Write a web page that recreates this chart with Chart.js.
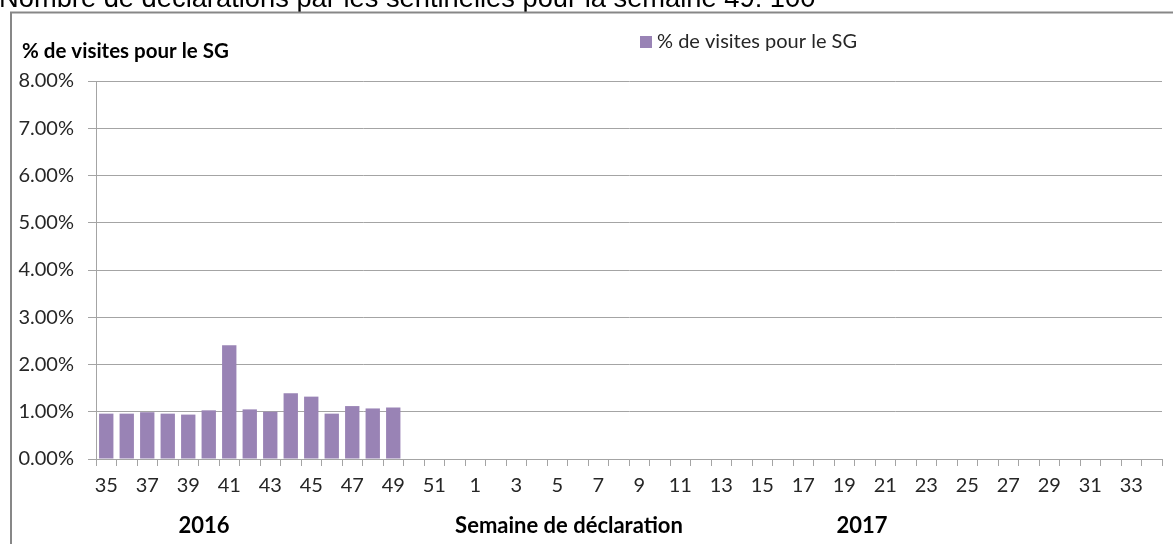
<!DOCTYPE html>
<html>
<head>
<meta charset="utf-8">
<style>
  html, body { margin: 0; padding: 0; background: #ffffff; overflow: hidden; }
  #wrap { position: relative; width: 1173px; height: 544px; }
</style>
<script src="https://cdn.jsdelivr.net/npm/chart.js@4"></script>
</head>
<body>
<div id="wrap"><canvas id="sgChart"></canvas></div>
<script>
const pageTitle = "Nombre de déclarations par les sentinelles pour la semaine 49: 100";
const seriesLabel = "% de visites pour le SG";
const axisTitle = "Semaine de déclaration";
const years = ["2016", "2017"];

const weeks = [
  "35", "36", "37", "38", "39", "40", "41", "42", "43", "44", "45", "46", "47", "48", "49", "50", "51", "52",
  "1", "2", "3", "4", "5", "6", "7", "8", "9", "10", "11", "12", "13", "14", "15", "16", "17",
  "18", "19", "20", "21", "22", "23", "24", "25", "26", "27", "28", "29", "30", "31", "32", "33", "34"
];

// % of visits, weeks 35 to 49 of 2016 (later weeks not yet reported)
const visitShare = [0.96, 0.96, 0.99, 0.96, 0.94, 1.03, 2.41, 1.05, 1.00, 1.39, 1.32, 0.96, 1.12, 1.07, 1.09];

const yMax = 8;
const yStep = 1;

const palette = {
  bar: "#9983b5",
  grid: "#a4a4a4",
  frame: "#878787",
  tick: "#262626",
  text: "#000000"
};

const sans = "Lato, 'Open Sans', sans-serif";

const framePlugin = {
  id: "framePlugin",
  beforeDraw(chart) {
    const { ctx, width, height } = chart;
    ctx.save();
    ctx.fillStyle = "#ffffff";
    ctx.fillRect(0, 0, width, height);

    ctx.font = "27.3px 'Liberation Sans', Arial, sans-serif";
    ctx.fillStyle = palette.text;
    ctx.textBaseline = "alphabetic";
    ctx.fillText(pageTitle, -1, 7);

    ctx.strokeStyle = palette.frame;
    ctx.lineWidth = 2;
    ctx.beginPath();
    ctx.moveTo(11, height + 5);
    ctx.lineTo(11, 12.5);
    ctx.lineTo(width + 5, 12.5);
    ctx.stroke();
    ctx.restore();
  }
};

const labelsPlugin = {
  id: "labelsPlugin",
  afterDraw(chart) {
    const { ctx } = chart;
    ctx.save();
    ctx.textBaseline = "middle";

    // legend
    ctx.fillStyle = chart.data.datasets[0].backgroundColor;
    ctx.fillRect(640, 36, 12, 12);
    ctx.fillStyle = "#262626";
    ctx.font = "20px " + sans;
    ctx.textAlign = "left";
    ctx.fillText(chart.data.datasets[0].label, 657, 42);

    // axis title
    ctx.fillStyle = palette.text;
    ctx.font = "bold 20.5px " + sans;
    ctx.fillText(seriesLabel, 22, 51);

    // bottom labels
    ctx.font = "bold 22px " + sans;
    ctx.textAlign = "center";
    ctx.fillText(years[0], 204, 526);
    ctx.fillText(axisTitle, 569, 526);
    ctx.fillText(years[1], 862, 526);
    ctx.restore();
  }
};

new Chart(document.getElementById("sgChart"), {
  type: "bar",
  data: {
    labels: weeks,
    datasets: [
      {
        label: seriesLabel,
        data: visitShare,
        backgroundColor: palette.bar,
        borderWidth: 0,
        barPercentage: 0.7,
        categoryPercentage: 1
      }
    ]
  },
  options: {
    responsive: true,
    maintainAspectRatio: false,
    animation: false,
    layout: {
      autoPadding: false,
      padding: { left: 12, right: 11, top: 81, bottom: 0 }
    },
    plugins: {
      legend: { display: false },
      tooltip: { enabled: false }
    },
    scales: {
      x: {
        afterFit: (scale) => { scale.height = 85; },
        ticks: {
          autoSkip: false,
          maxRotation: 0,
          minRotation: 0,
          padding: 8,
          color: palette.tick,
          font: { family: sans, size: 20 },
          callback: (value, index) => (index % 2 === 0 ? weeks[index] : "")
        },
        grid: {
          offset: true,
          drawOnChartArea: false,
          tickLength: 7,
          color: palette.grid
        },
        border: { color: palette.grid, width: 1 }
      },
      y: {
        min: 0,
        max: yMax,
        afterFit: (scale) => { scale.width = 84; },
        ticks: {
          stepSize: yStep,
          padding: 14,
          color: palette.tick,
          font: { family: sans, size: 20 },
          callback: (value) => `${value.toFixed(2)}%`
        },
        grid: {
          color: palette.grid,
          tickLength: 8
        },
        border: { color: palette.grid, width: 1 }
      }
    }
  },
  plugins: [framePlugin, labelsPlugin]
});
</script>
</body>
</html>
